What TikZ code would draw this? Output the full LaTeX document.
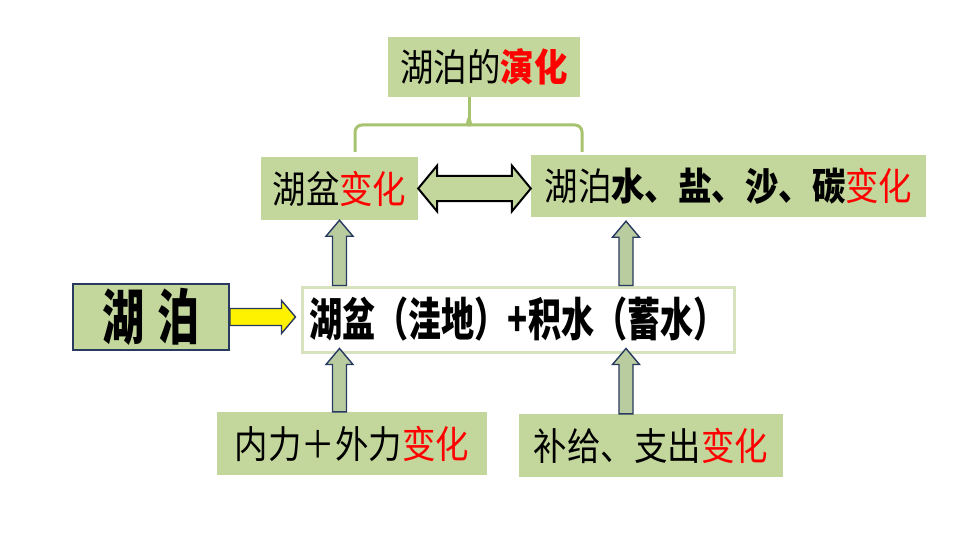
\documentclass[tikz,border=0pt]{standalone}
\usepackage{fontspec}
\usepackage{tikz}
\usetikzlibrary{calc}
\newfontfamily\kaiti[FakeStretch=0.88]{Noto Sans CJK SC}
\newfontfamily\heiti[FakeStretch=0.72]{Noto Sans CJK SC}
\newfontfamily\bigheiti[FakeStretch=0.70]{Noto Sans CJK SC}
\definecolor{boxgreen}{RGB}{195,214,155}
\definecolor{bracegreen}{RGB}{168,195,112}
\definecolor{arrowgreen}{RGB}{185,204,160}
\definecolor{edgenavy}{RGB}{40,58,95}
\definecolor{mainedge}{RGB}{214,227,190}
\definecolor{changered}{RGB}{255,0,0}

% block arrow pointing up: tail, tip
\newcommand{\uparr}[2]{%
  \draw[blockarr] ($(#1)+(-7,0)$) -- ($(#2)+(-7,16)$) -- ($(#2)+(-13.5,16)$) -- (#2)
    -- ($(#2)+(13.5,16)$) -- ($(#2)+(7,16)$) -- ($(#1)+(7,0)$) -- cycle;}

\begin{document}
\begin{tikzpicture}[x=1pt,y=-1pt,
    greenbox/.style={fill=boxgreen, inner sep=0pt, font=\kaiti\fontsize{38}{40}\selectfont},
    blockarr/.style={fill=arrowgreen, draw=edgenavy, line width=1.4pt, line join=miter}]
    \fill[white] (0,0) rectangle (960,540);

    \node[greenbox, minimum width=192pt, minimum height=60pt] (evol)    at (484,67)    {湖泊的{\bfseries\color{changered}演化}};
    \node[greenbox, minimum width=157pt, minimum height=63pt] (basin)   at (339.5,188.5) {湖盆{\color{changered}变化}};
    \node[greenbox, minimum width=395pt, minimum height=62pt] (content) at (728.5,186) {湖泊{\bfseries 水、盐、沙、碳}{\color{changered}变化}};
    \node[greenbox, draw=edgenavy, line width=2pt, minimum width=156pt, minimum height=66pt,
          font=\bigheiti\bfseries\fontsize{60}{62}\selectfont] (lake) at (151,317) {湖\hspace{14pt}泊};
    \node[fill=white, draw=mainedge, line width=3pt, inner sep=0pt, minimum width=432pt, minimum height=65pt,
          font=\heiti\bfseries\fontsize{46}{48}\selectfont] (pair) at (518,319.5) {湖盆（洼地）+积水（蓄水）};
    \node[greenbox, minimum width=270pt, minimum height=63pt] (force)  at (352,443.5) {内力＋外力{\color{changered}变化}};
    \node[greenbox, minimum width=264pt, minimum height=63pt] (supply) at (651,445.5) {补给、支出{\color{changered}变化}};

    % brace under the title
    \coordinate (rx) at (626,0);
    \coordinate (stem) at (evol.south -| 469,0);
    \coordinate (join) at (469,125);
    \draw[bracegreen, line width=3pt] (stem) -- ($(join)+(0,-7)$);
    \draw[bracegreen, line width=3pt, rounded corners=7pt]
      (355,152) |- ($(join)+(-8,0)$) .. controls ($(join)+(-2,0)$) .. ($(join)+(0,-7)$);
    \draw[bracegreen, line width=3pt, rounded corners=7pt]
      (582,152) |- ($(join)+(8,0)$) .. controls ($(join)+(2,0)$) .. ($(join)+(0,-7)$);

    % two way arrow
    \coordinate (da) at (basin.east);
    \coordinate (db) at (basin.east -| content.west);
    \draw[fill=boxgreen, draw=black, line width=2pt, line join=miter]
      (da) -- ($(da)+(19,-23)$) -- ($(da)+(19,-12.5)$) -- ($(db)+(-19,-12.5)$) -- ($(db)+(-19,-23)$)
      -- (db) -- ($(db)+(-19,23)$) -- ($(db)+(-19,12.5)$) -- ($(da)+(19,12.5)$) -- ($(da)+(19,23)$) -- cycle;

    % yellow arrow
    \coordinate (ya) at (lake.east);
    \coordinate (yb) at ($(lake.east -| pair.west)+(-5,0)$);
    \draw[fill=yellow, draw=edgenavy, line width=1.4pt, line join=miter]
      ($(ya)+(0,-8.5)$) -- ($(yb)+(-14,-8.5)$) -- ($(yb)+(-14,-16.5)$) -- (yb)
      -- ($(yb)+(-14,16.5)$) -- ($(yb)+(-14,8.5)$) -- ($(ya)+(0,8.5)$) -- cycle;

    % up arrows
    \uparr{pair.north -| basin.south}{basin.south}
    \uparr{pair.north -| rx}{$(content.south -| rx)+(0,4)$}
    \uparr{force.north -| basin.south}{$(pair.south -| basin.south)+(0,-5)$}
    \uparr{supply.north -| rx}{$(pair.south -| rx)+(0,-5)$}
\end{tikzpicture}
\end{document}
